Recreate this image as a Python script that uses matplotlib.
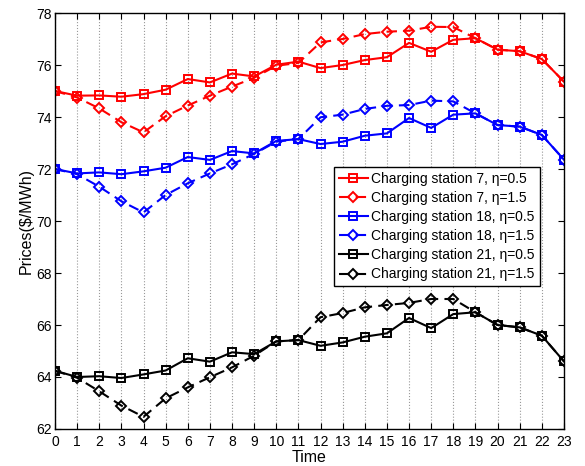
import numpy as np
import matplotlib
matplotlib.use("Agg")
import matplotlib.pyplot as plt

plt.rcParams['font.family'] = ['Liberation Sans', 'DejaVu Sans']

# hourly prices ($/MWh) for three charging stations, two eta settings
hours = list(range(24))

cs7_eta05 = [75.0, 74.82, 74.83, 74.78, 74.88, 75.05, 75.46, 75.33, 75.67, 75.56,
             76.01, 76.13, 75.88, 76.0, 76.19, 76.3, 76.85, 76.51, 76.97, 77.03,
             76.59, 76.53, 76.23, 75.36]
cs7_eta15 = [75.0, 74.75, 74.33, 73.8, 73.41, 74.03, 74.44, 74.82, 75.17, 75.51,
             75.97, 76.08, 76.87, 77.0, 77.19, 77.28, 77.32, 77.47, 77.46, 77.03,
             76.59, 76.53, 76.23, 75.36]

cs18_eta05 = [72.0, 71.83, 71.87, 71.8, 71.91, 72.05, 72.46, 72.35, 72.69, 72.6,
              73.08, 73.15, 72.96, 73.05, 73.28, 73.37, 73.96, 73.58, 74.09, 74.14,
              73.69, 73.63, 73.31, 72.36]
cs18_eta15 = [72.0, 71.8, 71.32, 70.76, 70.33, 71.0, 71.45, 71.83, 72.18, 72.58,
              73.05, 73.15, 73.99, 74.09, 74.31, 74.43, 74.46, 74.63, 74.6, 74.14,
              73.69, 73.63, 73.31, 72.36]

cs21_eta05 = [64.24, 64.0, 64.03, 63.96, 64.1, 64.25, 64.72, 64.59, 64.95, 64.88,
              65.37, 65.42, 65.2, 65.33, 65.55, 65.68, 66.27, 65.88, 66.42, 66.49,
              66.0, 65.91, 65.59, 64.6]
cs21_eta15 = [64.24, 63.97, 63.45, 62.9, 62.47, 63.18, 63.6, 63.99, 64.37, 64.82,
              65.37, 65.42, 66.3, 66.46, 66.68, 66.77, 66.85, 67.0, 67.0, 66.49,
              66.0, 65.91, 65.59, 64.6]

series = [
    (cs7_eta05, 'r', '-', 's', 'Charging station 7, \u03b7=0.5'),
    (cs7_eta15, 'r', '--', 'D', 'Charging station 7, \u03b7=1.5'),
    (cs18_eta05, 'b', '-', 's', 'Charging station 18, \u03b7=0.5'),
    (cs18_eta15, 'b', '--', 'D', 'Charging station 18, \u03b7=1.5'),
    (cs21_eta05, 'k', '-', 's', 'Charging station 21, \u03b7=0.5'),
    (cs21_eta15, 'k', '--', 'D', 'Charging station 21, \u03b7=1.5'),
]

fig = plt.figure(figsize=(5.85, 4.66), dpi=100)
ax = fig.add_axes([0.094, 0.0794, 0.870, 0.8927])

for vals, c, ls, mk, lab in series:
    ms = 6 if mk == 's' else 5.5
    ax.plot(hours, vals, color=c, linestyle=ls, marker=mk, markersize=ms,
            markerfacecolor='none', markeredgecolor=c, markeredgewidth=1.4,
            linewidth=1.5, label=lab, dashes=(5, 3) if ls == '--' else (None, None))

ax.set_xlim(0, 23)
ax.set_ylim(62, 78)
ax.set_xticks(hours)
ax.set_yticks(np.arange(62, 79, 2))
ax.tick_params(direction='in', top=True, right=True, labelsize=10, length=4)
ax.tick_params(axis='x', pad=4)
ax.tick_params(axis='y', pad=2)
ax.xaxis.grid(True, linestyle=':', color='#999999', linewidth=0.8)
for s in ax.spines.values():
    s.set_linewidth(1.0)

ax.set_xlabel('Time', fontsize=11.5, labelpad=1)
ax.set_ylabel('Prices($/MWh)', fontsize=11.5, labelpad=2)

leg = ax.legend(loc='upper left', bbox_to_anchor=(0.548, 0.630), fontsize=10,
                fancybox=False, edgecolor='k', framealpha=1, handlelength=2.1,
                borderpad=0.35, labelspacing=0.37, handletextpad=0.25,
                borderaxespad=0)
leg.get_frame().set_linewidth(1.0)

fig.savefig('out.png', dpi=100)
